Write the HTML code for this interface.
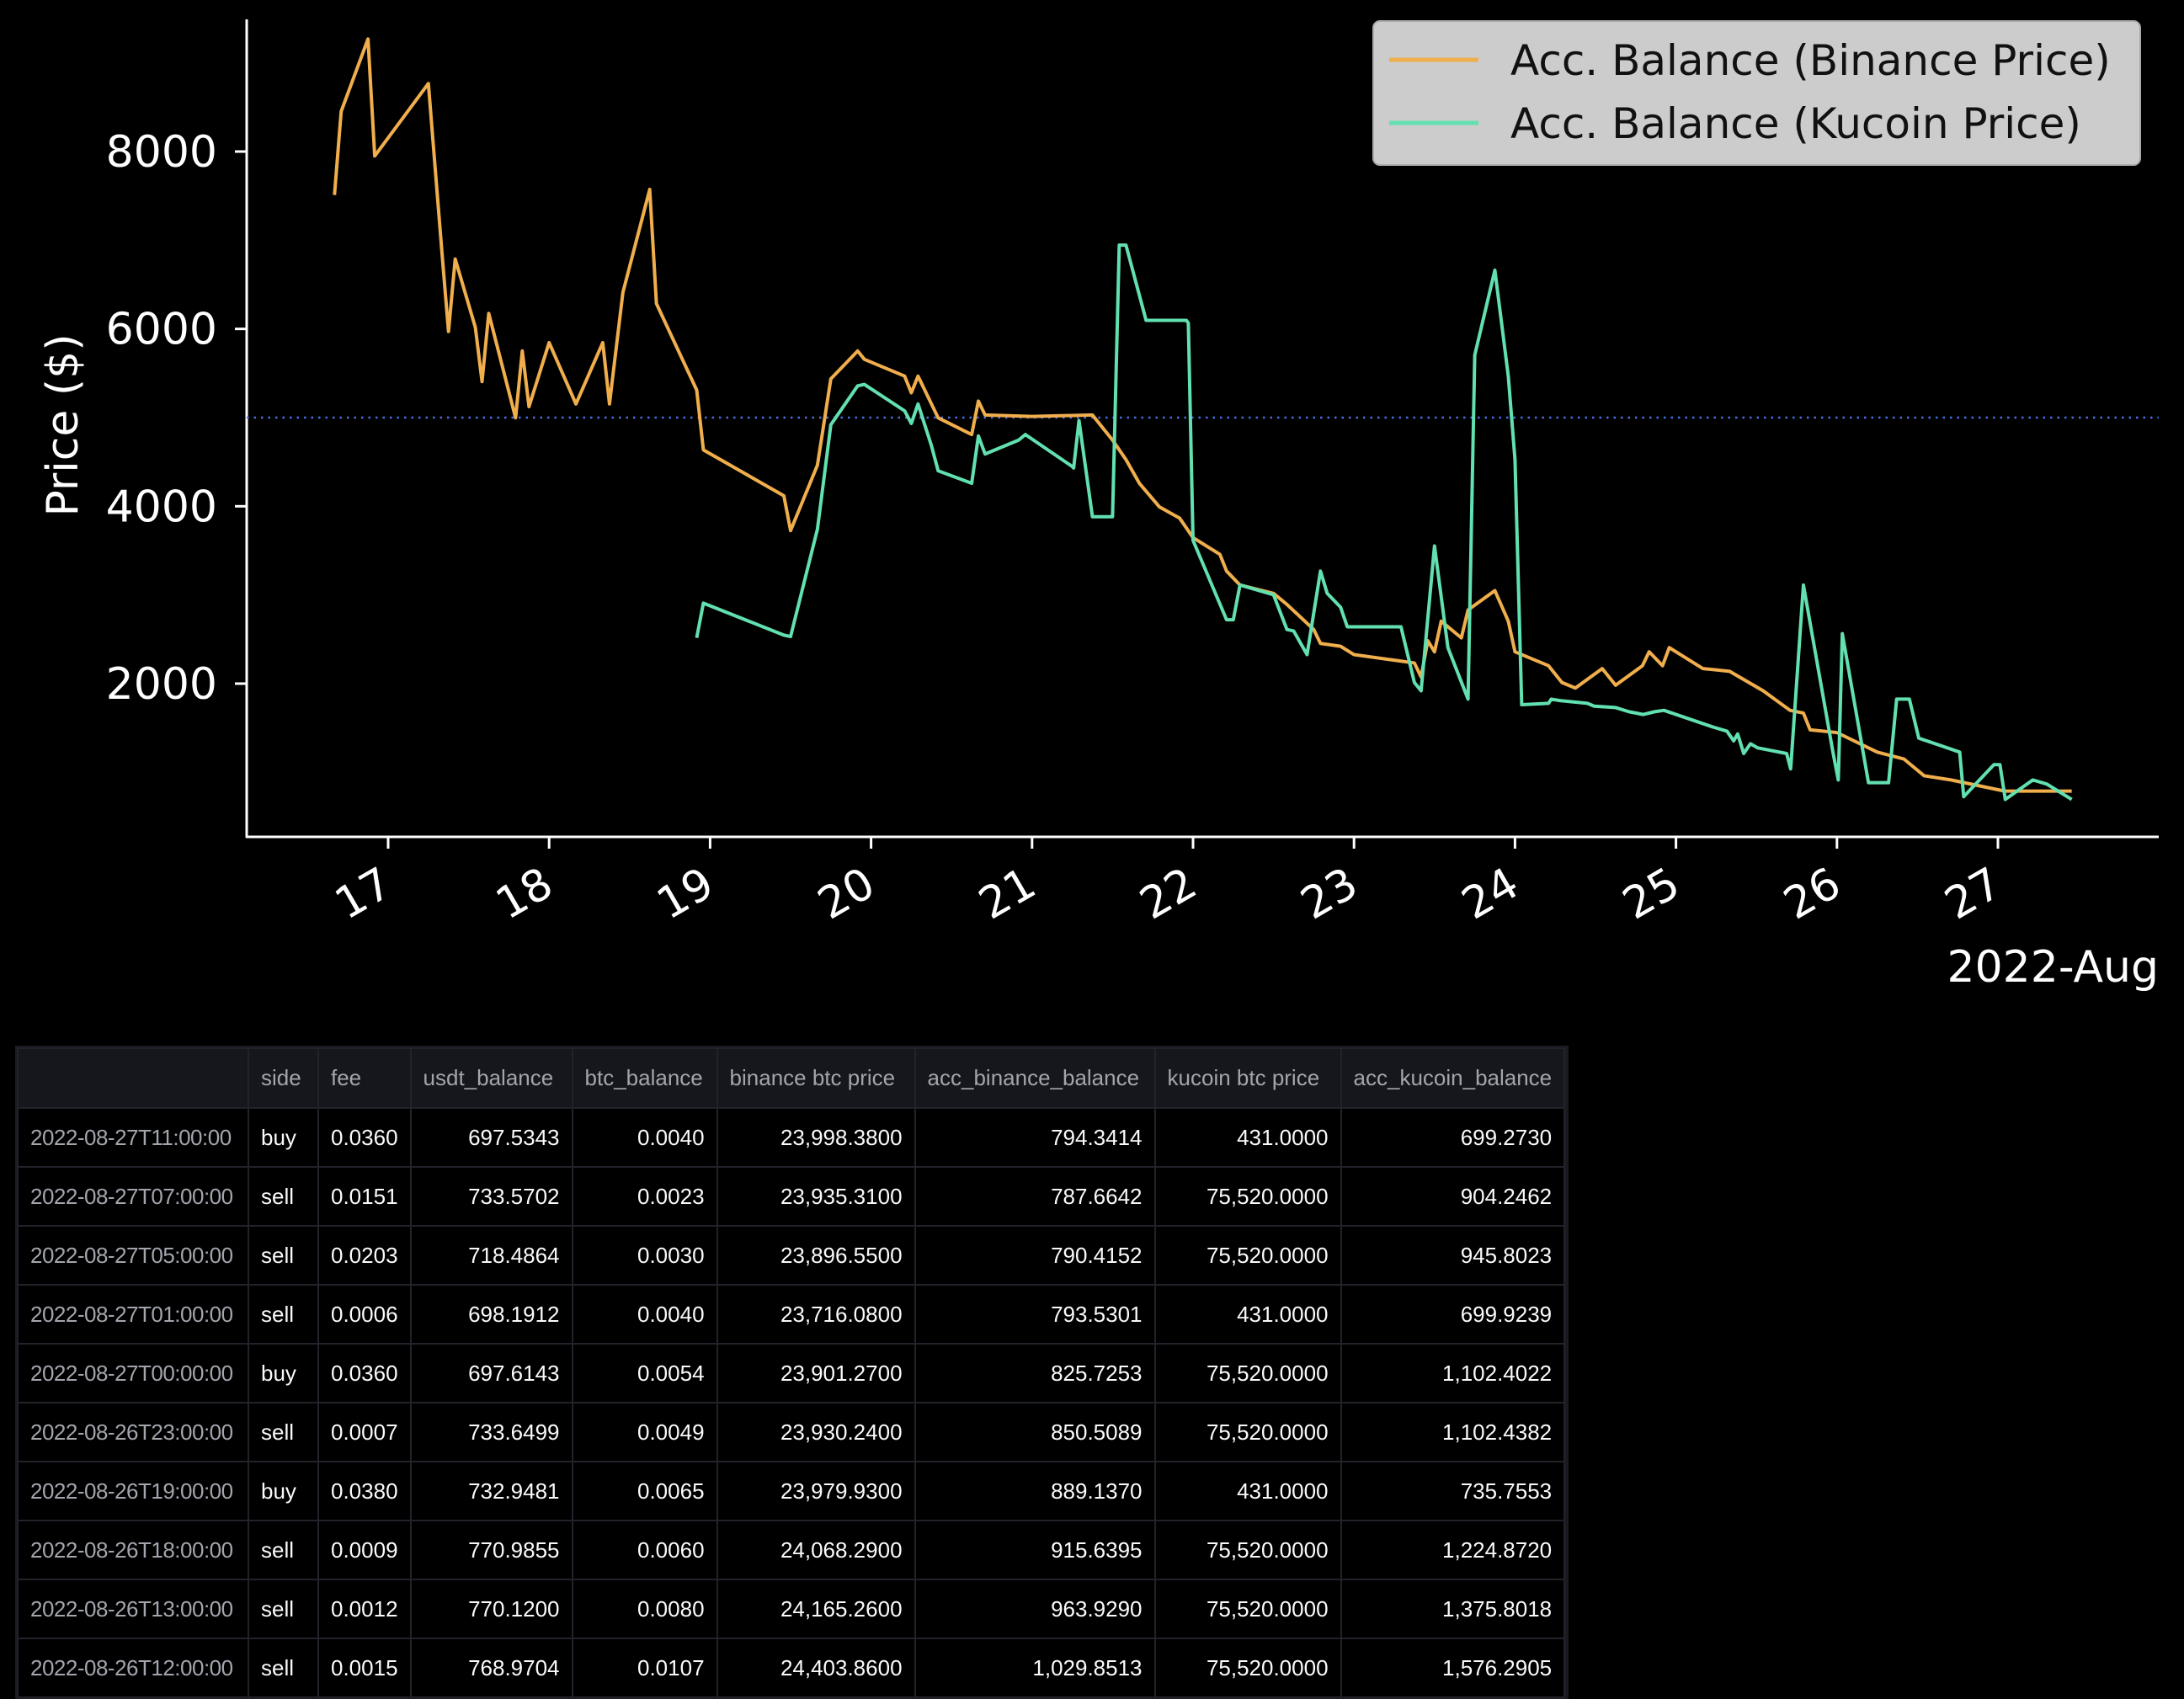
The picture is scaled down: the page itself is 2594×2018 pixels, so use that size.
<!DOCTYPE html>
<html><head><meta charset="utf-8">
<style>
html,body{margin:0;padding:0;background:#000;width:2594px;height:2018px;overflow:hidden}
svg{position:absolute;left:0;top:0}
#frame{position:absolute;left:18px;top:1242px;width:1845px;height:776px;background:#1a1b20}
#tbl{position:absolute;left:20px;top:1244px;border-collapse:collapse;font-family:"Liberation Sans",sans-serif;font-size:26px;table-layout:fixed;background:#000}
#tbl th,#tbl td{border:2px solid #22232a;padding:0 14px;white-space:nowrap;overflow:hidden;height:68px}
#tbl th{background:#16171c;color:#a3a5ad;font-weight:normal;text-align:left;height:69px}
#tbl td{color:#fafafa;text-align:right}
#tbl td.idx{color:#a3a5ad;text-align:left;letter-spacing:-0.5px}
#tbl td.side{text-align:left}
</style></head>
<body>
<svg id="chart" width="2594" height="1200"></svg>
<div id="frame"></div>
<table id="tbl">
<colgroup><col style="width:274px"><col style="width:83px"><col style="width:109px"><col style="width:192px"><col style="width:172px"><col style="width:235px"><col style="width:285px"><col style="width:221px"><col style="width:258px"></colgroup>
<thead><tr><th></th><th>side</th><th>fee</th><th>usdt_balance</th><th>btc_balance</th><th>binance btc price</th><th>acc_binance_balance</th><th>kucoin btc price</th><th>acc_kucoin_balance</th></tr></thead>
<tbody id="tb"></tbody>
</table>
<script>
// hours since 2022-08-16 00:00
const binanceHours=[16,17,21,22,30,32,33,34,37,38,39,43,44,45,48,52,56,57,59,63,64,70,71,83,84,88,90,94,95,101,102,103,106,111,112,113,120,129,132,134,136,139,142,144,148,149,151,156,158,162,163,166,168,177,178,179,180,181,184,185,189,191,192,197,199,201,205,207,211,212,214,215,220,224,229,233,235,236,240,246,250,253,257,261,265,275];
const binanceValues=[7510,8453,9269,7950,8767,6882,5971,6788,6018,5406,6175,4997,5751,5123,5845,5154,5845,5154,6411,7573,6285,5311,4636,4118,3725,4463,5437,5751,5657,5468,5280,5468,4997,4809,5186,5029,5013,5029,4746,4526,4259,3992,3866,3646,3458,3269,3112,3018,2893,2610,2453,2421,2327,2233,2076,2484,2358,2704,2516,2830,3049,2704,2359,2202,2013,1950,2170,1982,2202,2359,2202,2406,2170,2139,1919,1699,1668,1479,1448,1228,1149,961,914,851,788,788];
const kucoinHours=[70,71,83,84,88,90,94,95,101,102,103,105,106,111,112,113,118,119,126,126.2,127,129,132,133,134,137,138,143,143.3,144,149,150,151,156,158,159,161,163,164,166,167,175,177,178,180,182,185,186,189,191,192,193,197,197.4,198.7,202.8,203.8,207,209,211.1,212.8,214.2,221.5,223.6,224.6,225.2,226.1,227.1,228.2,232.5,233.1,235,239.4,240.2,240.8,244.7,247.7,248.9,250.8,252.2,258.3,258.9,263.4,264.3,265.1,269.2,271.3,275];
const kucoinValues=[2516,2908,2547,2531,3741,4919,5358,5374,5076,4934,5154,4683,4400,4259,4793,4589,4746,4809,4448,4432,4966,3882,3882,6945,6945,6097,6097,6097,6065,3615,2720,2720,3112,3002,2610,2594,2327,3269,3018,2861,2641,2641,2013,1919,3552,2406,1825,5704,6662,5468,4526,1762,1778,1825,1809,1778,1746,1730,1683,1652,1683,1699,1511,1464,1354,1432,1212,1322,1275,1212,1039,3112,1228,914,2563,883,883,1825,1825,1385,1228,725,1086,1086,694,914,867,694];
const yTicks=[2000,4000,6000,8000];
const xTickLabels=["17","18","19","20","21","22","23","24","25","26","27"];
const refLine=5000;

const NS="http://www.w3.org/2000/svg";
const svg=document.getElementById('chart');
const X=h=>461+(h/24-1)*191.2;
const Y=v=>180+(8000-v)*0.10533;
function mk(tag,attrs,parent){const e=document.createElementNS(NS,tag);for(const k in attrs)e.setAttribute(k,attrs[k]);(parent||svg).appendChild(e);return e;}
const F='"DejaVu Sans","Liberation Sans",sans-serif';

let ax=mk('line',{x1:293,y1:23,x2:293,y2:995,stroke:'#fff','stroke-width':3});


let bx=mk('line',{x1:292,y1:994,x2:2564,y2:994,stroke:'#fff','stroke-width':3});



yTicks.forEach(v=>{
  mk('line',{x1:279,y1:Y(v),x2:293,y2:Y(v),stroke:'#fff','stroke-width':3});
  const t=mk('text',{x:258,y:Y(v)+18,'text-anchor':'end',fill:'#fff','font-size':52,'font-family':F});
  t.textContent=v;
  
  
});
xTickLabels.forEach((d,i)=>{
  const x=X((+d-16)*24);
  mk('line',{x1:x,y1:994,x2:x,y2:1008,stroke:'#fff','stroke-width':3});
  const t=mk('text',{x:x+8,y:1060,'text-anchor':'end',fill:'#fff','font-size':52,'font-family':F,transform:`rotate(-30 ${x+8} 1060)`});
  t.textContent=d;
  
  
});
let yl=mk('text',{x:92,y:505,'text-anchor':'middle',fill:'#fff','font-size':52,'font-family':F,transform:'rotate(-90 92 505)'});
yl.textContent='Price ($)';


let xl=mk('text',{x:2564,y:1166,'text-anchor':'end',fill:'#fff','font-size':52,'font-family':F});
xl.textContent='2022-Aug';



let rl=mk('line',{x1:293,y1:Y(refLine),x2:2564,y2:Y(refLine),stroke:'#4a6fe0','stroke-width':2.5,'stroke-dasharray':'2.5 6'});



function series(hs,vs,color,name){
  const p=mk('polyline',{points:hs.map((h,i)=>X(h)+','+Y(vs[i])).join(' '),fill:'none',stroke:color,'stroke-width':4,'stroke-linejoin':'round'});
  
  
}
series(binanceHours,binanceValues,'#f0ae4c','binance-balance-line');
series(kucoinHours,kucoinValues,'#62e0b0','kucoin-balance-line');

const lg=mk('g',{});


mk('rect',{x:1631,y:25,width:911,height:171,rx:8,fill:'#cccccc',stroke:'#aaa','stroke-width':2},lg);
[['#f0ae4c','Acc. Balance (Binance Price)',71],['#62e0b0','Acc. Balance (Kucoin Price)',146]].forEach(([c,s,y])=>{
  mk('line',{x1:1650,y1:y,x2:1756,y2:y,stroke:c,'stroke-width':5},lg);
  const t=mk('text',{x:1794,y:y+18,fill:'#111','font-size':50,'font-family':F},lg);
  t.textContent=s;
  
  
});

const rows=[
["2022-08-27T11:00:00","buy","0.0360","697.5343","0.0040","23,998.3800","794.3414","431.0000","699.2730"],
["2022-08-27T07:00:00","sell","0.0151","733.5702","0.0023","23,935.3100","787.6642","75,520.0000","904.2462"],
["2022-08-27T05:00:00","sell","0.0203","718.4864","0.0030","23,896.5500","790.4152","75,520.0000","945.8023"],
["2022-08-27T01:00:00","sell","0.0006","698.1912","0.0040","23,716.0800","793.5301","431.0000","699.9239"],
["2022-08-27T00:00:00","buy","0.0360","697.6143","0.0054","23,901.2700","825.7253","75,520.0000","1,102.4022"],
["2022-08-26T23:00:00","sell","0.0007","733.6499","0.0049","23,930.2400","850.5089","75,520.0000","1,102.4382"],
["2022-08-26T19:00:00","buy","0.0380","732.9481","0.0065","23,979.9300","889.1370","431.0000","735.7553"],
["2022-08-26T18:00:00","sell","0.0009","770.9855","0.0060","24,068.2900","915.6395","75,520.0000","1,224.8720"],
["2022-08-26T13:00:00","sell","0.0012","770.1200","0.0080","24,165.2600","963.9290","75,520.0000","1,375.8018"],
["2022-08-26T12:00:00","sell","0.0015","768.9704","0.0107","24,403.8600","1,029.8513","75,520.0000","1,576.2905"]];
const tb=document.getElementById('tb');
rows.forEach(r=>{
  const tr=document.createElement('tr');
  
  
  r.forEach((c,i)=>{
    const td=document.createElement('td');
    if(i===0)td.className='idx';
    if(i===1||i===2)td.className='side';
    td.textContent=c;
    tr.appendChild(td);
  });
  tb.appendChild(tr);
});
</script>
</body></html>
